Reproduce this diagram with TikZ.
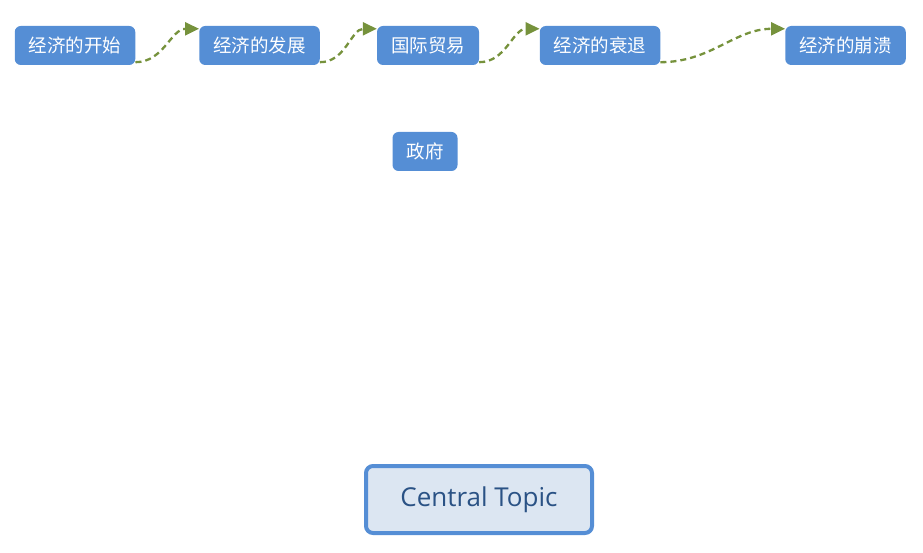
\documentclass[tikz,border=0pt]{standalone}
\usepackage{fontspec}
\setmainfont{Open Sans}
\newfontfamily\cjk{Noto Sans CJK SC}
\usepackage{tikz}
\usetikzlibrary{arrows.meta}
\definecolor{topicblue}{HTML}{558ED5}
\definecolor{centralfill}{HTML}{DCE6F2}
\definecolor{centraltext}{HTML}{2A5285}
\definecolor{flowgreen}{HTML}{76923C}

\begin{document}
\begin{tikzpicture} [x=1pt, y=-1pt,
    sub/.style={fill=topicblue, rounded corners=6pt, text=white, font=\cjk\fontsize{18.5}{21}\selectfont, minimum height=39pt, inner xsep=14pt},
    central/.style={draw=topicblue, line width=4pt, fill=centralfill, rounded corners=7pt, text=centraltext, font=\fontsize{26}{29}\selectfont, minimum width=226pt, minimum height=67pt},
    flow/.style={draw=flowgreen, line width=2.3pt, dash pattern=on 6pt off 4pt, -{Triangle[length=14pt,width=13pt]}}
  ]
    \useasboundingbox (0,0) rectangle (923,553);

    \node[sub] (start)   at (75,45.5)  {经济的开始};
    \node[sub] (grow)    at (259.5,45.5) {经济的发展};
    \node[sub] (trade)   at (428,45.5) {国际贸易};
    \node[sub] (decline) at (600,45.5) {经济的衰退};
    \node[sub] (crash)   at (845.5,45.5) {经济的崩溃};
    \node[sub] (gov)     at (425,151.5) {政府};

    \node[central] (topic) at (479,499.5) {Central Topic};

    %% timeline links between the sub topics
    \draw[flow] ([yshift=3pt]start.south east)   to[out=0,in=180] ([yshift=-3pt]grow.north west);
    \draw[flow] ([yshift=3pt]grow.south east)    to[out=0,in=180] ([yshift=-3pt]trade.north west);
    \draw[flow] ([yshift=3pt]trade.south east)   to[out=0,in=180] ([yshift=-3pt]decline.north west);
    \draw[flow] ([yshift=3pt]decline.south east) to[out=0,in=180] ([yshift=-3pt]crash.north west);
\end{tikzpicture}
\end{document}
